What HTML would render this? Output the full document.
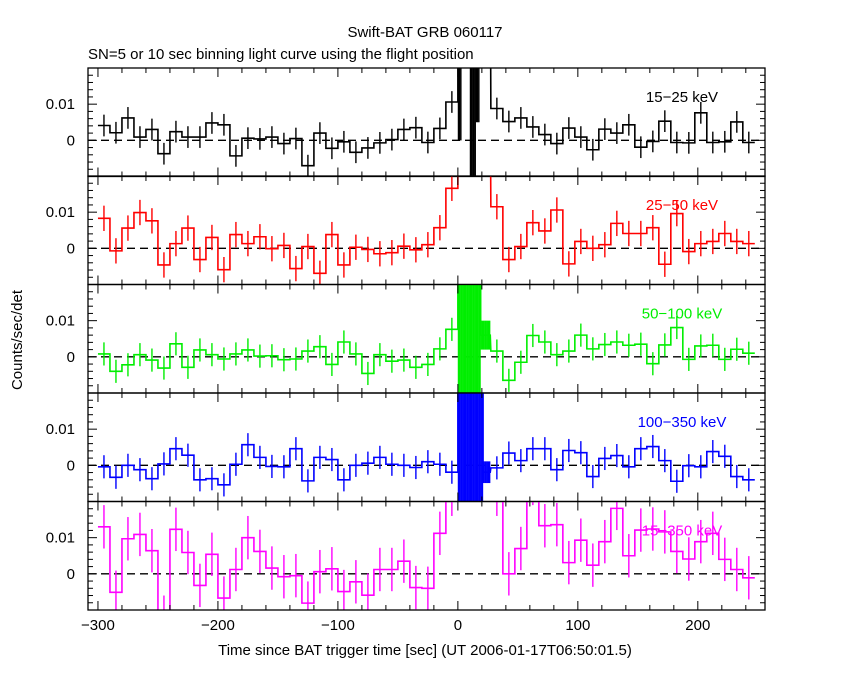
<!DOCTYPE html>
<html><head><meta charset="utf-8">
<style>
html,body{margin:0;padding:0;background:#fff;}
svg{display:block;font-family:"Liberation Sans",sans-serif;}
</style></head>
<body>
<svg id="chart" width="850" height="680" viewBox="0 0 850 680" xmlns="http://www.w3.org/2000/svg">
<text x="425" y="37" text-anchor="middle" font-size="15">Swift-BAT GRB 060117</text>
<text x="88" y="59" font-size="15">SN=5 or 10 sec binning light curve using the flight position</text>
<text transform="translate(22,340) rotate(-90)" text-anchor="middle" font-size="15">Counts/sec/det</text>
<text x="425" y="655" text-anchor="middle" font-size="15">Time since BAT trigger time [sec] (UT 2006-01-17T06:50:01.5)</text>
<g id="plots"></g>
</svg>
<script>
// bin layout (seconds): 30 pre-burst 10 s bins, 27 one-second burst bins, 22 post-burst 10 s bins
const preCenters = [-295,-285,-275,-265,-255,-245,-235,-225,-215,-205,-195,-185,-175,-165,-155,-145,-135,-125,-115,-105,-95,-85,-75,-65,-55,-45,-35,-25,-15,-5];
const burstCenters = [0.5,1.5,2.5,3.5,4.5,5.5,6.5,7.5,8.5,9.5,10.5,11.5,12.5,13.5,14.5,15.5,16.5,17.5,18.5,19.5,20.5,21.5,22.5,23.5,24.5,25.5,26.5];
const postCenters = [32.5,42.5,52.5,62.5,72.5,82.5,92.5,102.5,112.5,122.5,132.5,142.5,152.5,162.5,172.5,182.5,192.5,202.5,212.5,222.5,232.5,242.5];
const preWidth = 10, burstWidth = 1, postWidth = 10;

// values in units of 0.001 counts/sec/det
const pre1 = [4.1,2.1,6.2,0.9,3.0,-3.7,2.4,0.9,0.9,4.8,4.3,-4.3,0.6,0.4,0.9,-0.9,0.5,-7,2.0,-2.2,-0.4,-3.3,-2.1,-0.7,0.2,3,3.5,-0.6,3.3,10.6];
const burst1 = [40,40,40,50,50,50,50,50,50,50,30,30,30,30,30,30,30,30,50,50,50,50,50,50,50,50,50];
const burstErr1 = [40,40,40,5,5,5,5,5,5,5,40,40,40,40,40,25,25,25,5,5,5,5,5,5,5,5,5];
const post1 = [8.8,5.2,6.2,3.7,1.6,-0.9,3.4,0.9,-2.6,3.1,2.0,4.3,-1.9,-0.3,5.3,-0.6,-0.7,7.6,-0.6,-0.4,5.1,-0.6];

const pre2 = [8.3,-0.7,5.6,9.9,7.6,-4.6,1.3,5.6,-3.1,3.0,-5.9,3.8,1.3,3.2,-0.1,0.8,-5.6,0.5,-6.9,3.8,-4.6,0.3,-0.3,-1.5,-1.2,0.6,-0.4,1.0,5.7,16.6];
const burst2 = [40,40,40,40,40,40,40,40,40,40,40,40,40,40,40,40,40,40,40,40,40,40,40,40,40,40,40];
const burstErr2 = [5,5,5,5,5,5,5,5,5,5,5,5,5,5,5,5,5,5,5,5,5,5,5,5,5,5,5];
const post2 = [11.5,-3.1,0.5,7.1,4.8,10.6,-4.3,1.9,0,1.0,6.9,4.1,4.1,5.7,-4.4,9.6,-0.9,1.3,1.9,4.1,1.9,1.3];

const pre3 = [0.8,-4.0,-2.2,0.6,-0.9,-3.1,3.6,-2.9,1.9,0.6,-0.6,0.8,1.9,0.2,0.3,-0.8,-0.6,1.6,2.8,-2.1,4.1,0.8,-4.6,0.6,-1.2,-0.9,-2.9,-2.1,2.2,7.6];
const burst3 = [20,20,20,20,20,20,20,20,20,20,20,20,20,20,20,20,20,20,20,6,6,6,6,6,6,6,6];
const burstErr3 = [40,40,40,40,40,40,40,40,40,40,40,40,40,40,40,40,40,40,40,4,4,4,4,4,4,4,4];
const post3 = [1.6,-6.5,-1.5,5.9,4.1,0.6,1.6,6.0,2.2,3.4,4.1,3.2,3.5,-1.9,3.3,8.1,-0.7,3.0,3.2,-0.7,2.1,1.0];

const pre4 = [-0.4,-3.3,0,-1.2,-3.7,0.4,4.6,2.8,-4.0,-3.7,-5.4,0.3,5.7,2.2,-0.3,-0.4,4.6,-4.3,2.2,1.6,-4.0,0,0.6,2.2,0.3,0,-0.6,1.0,0.3,-1.9];
const burst4 = [20,20,20,20,20,20,20,20,20,20,20,20,20,20,20,20,20,20,20,20,20,-1.9,-1.9,-1.9,-1.9,-1.9,-1.9];
const burstErr4 = [40,40,40,40,40,40,40,40,40,40,40,40,40,40,40,40,40,40,40,40,40,3,3,3,3,3,3];
const post4 = [-0.7,3.4,1.3,4.6,4.6,-1.2,4.1,3.5,-3.1,1.9,2.7,-0.4,4.6,5.2,1.3,-4.4,-0.1,-0.4,3.8,2.5,-3.1,-4.0];

const pre5 = [13.0,-5.1,9.7,10.9,6.4,-12,12.3,5.9,-3.2,5.4,-6.7,1.2,10.0,6.2,1.6,-0.8,-0.5,-8.1,0.6,1.4,-4.9,-2.2,-5.9,1.2,1.2,3.5,-3.8,-4.0,11.2,22];
const burst5 = [50,50,50,50,50,50,50,50,50,50,50,50,50,50,50,50,50,50,50,50,50,50,50,50,50,50,50];
const burstErr5 = [5,5,5,5,5,5,5,5,5,5,5,5,5,5,5,5,5,5,5,5,5,5,5,5,5,5,5];
const post5 = [22,0,7.0,25,13.3,13.6,3.1,9.3,2.4,8.9,18.1,5.0,12.1,12.4,11.6,6.2,4.1,8.9,11.2,4.0,1.2,-1.1];

const errors = [3.0,3.5,3.2,3.2,6.0];
const bandLabels = ["15\u221225 keV","25\u221250 keV","50\u2212100 keV","100\u2212350 keV","15\u2212350 keV"];
const xTickLabels = [-300,-200,-100,0,100,200];
const yTickLabels = [0,0.01];

const NS='http://www.w3.org/2000/svg';
const X0=88,X1=765,T0=-308.3,T1=256;
const panelTop=[68,176,284.5,393,501.5], PH=108.5;
const YMIN=-0.01,YMAX=0.02;
const colors=['#000000','#ff0000','#00ee00','#0000ff','#ff00ff'];
const xs=t=>X0+(t-T0)/(T1-T0)*(X1-X0);
function mk(tag,attrs,parent){const e=document.createElementNS(NS,tag);for(const k in attrs)e.setAttribute(k,attrs[k]);parent.appendChild(e);return e;}
const root=document.getElementById('plots');
const defs=mk('defs',{},root);
const panels=[[pre1,burst1,burstErr1,post1],[pre2,burst2,burstErr2,post2],[pre3,burst3,burstErr3,post3],[pre4,burst4,burstErr4,post4],[pre5,burst5,burstErr5,post5]];

panels.forEach((p,k)=>{
  const top=panelTop[k], bot=top+PH;
  const ys=v=>bot-(v-YMIN)/(YMAX-YMIN)*PH;
  const cp=mk('clipPath',{id:'clip'+k},defs);
  mk('rect',{x:X0,y:top,width:X1-X0,height:PH},cp);
  const g=mk('g',{},root);
  
  
  const bins=[];
  preCenters.forEach((c,i)=>bins.push({c:c,w:preWidth,v:p[0][i]/1000,e:errors[k]/1000}));
  burstCenters.forEach((c,i)=>bins.push({c:c,w:burstWidth,v:p[1][i]/1000,e:p[2][i]/1000}));
  postCenters.forEach((c,i)=>bins.push({c:c,w:postWidth,v:p[3][i]/1000,e:errors[k]/1000}));
  const dg=mk('g',{'clip-path':'url(#clip'+k+')'},g);
  const z=mk('line',{x1:X0,x2:X1,y1:ys(0),y2:ys(0),stroke:'#000','stroke-width':1.3,'stroke-dasharray':'8,5'},dg);
  
  
  let d='';
  bins.forEach((b,i)=>{
    const xa=xs(b.c-b.w/2), xb=xs(b.c+b.w/2), y=ys(b.v);
    d+=(i===0?'M':'L')+xa.toFixed(2)+','+y.toFixed(2)+'L'+xb.toFixed(2)+','+y.toFixed(2);
    const eb=mk('line',{x1:xs(b.c),x2:xs(b.c),y1:ys(b.v-b.e),y2:ys(b.v+b.e),stroke:colors[k],'stroke-width':1.4},dg);
    
    
  });
  const step=mk('path',{d:d,fill:'none',stroke:colors[k],'stroke-width':1.6},dg);
  
  
  const fr=mk('rect',{x:X0,y:top,width:X1-X0,height:PH,fill:'none',stroke:'#000','stroke-width':1.3},g);
  
  
  for(let t=-300;t<=240;t+=20){
    const len=(t%100===0)?9:5, x=xs(t);
    mk('line',{x1:x,x2:x,y1:bot,y2:bot-len,stroke:'#000','stroke-width':1},g);
    mk('line',{x1:x,x2:x,y1:top,y2:top+len,stroke:'#000','stroke-width':1},g);
  }
  for(let j=-4;j<=9;j++){
    const v=j*0.002, y=ys(v), len=(j%5===0)?9:5;
    mk('line',{x1:X0,x2:X0+len,y1:y,y2:y,stroke:'#000','stroke-width':1},g);
    mk('line',{x1:X1,x2:X1-len,y1:y,y2:y,stroke:'#000','stroke-width':1},g);
  }
  yTickLabels.forEach(v=>{
    const tl=mk('text',{x:75,y:ys(v)+5,'text-anchor':'end','font-size':15},g);
    tl.textContent=(v===0?'0':String(v));
    
    
  });
  const bl=mk('text',{x:682,y:top+34,'text-anchor':'middle','font-size':15,fill:colors[k]},g);
  bl.textContent=bandLabels[k];
  
  
});
xTickLabels.forEach(t=>{
  const tl=mk('text',{x:xs(t),y:630,'text-anchor':'middle','font-size':15},root);
  tl.textContent=(t<0?'\u2212'+(-t):String(t));
  
  
});
</script>
</body></html>
